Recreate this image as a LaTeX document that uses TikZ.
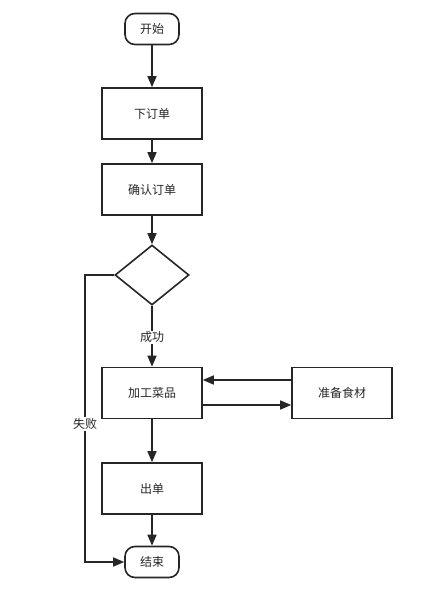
\documentclass[tikz,border=0pt]{standalone}
\usepackage{fontspec}
\newfontfamily\cjk{Noto Sans CJK SC}
\usetikzlibrary{shapes.geometric,arrows.meta}
\begin{document}
\begin{tikzpicture}[x=1pt,y=-1pt,
  every node/.style={font=\cjk\fontsize{12}{14}\selectfont, text=black!85},
  box/.style={draw=black!85, line width=1.6pt, minimum width=100pt, minimum height=51pt, inner sep=0pt},
  term/.style={draw=black!85, line width=1.6pt, rounded corners=10pt, minimum width=54pt, minimum height=31pt, inner sep=0pt},
  dec/.style={draw=black!85, line width=1.6pt, diamond, minimum width=74pt, minimum height=60pt, inner sep=0pt},
  conn/.style={draw=black!85, line width=1.6pt, -{Triangle[length=11pt,width=9pt]}},
  lbl/.style={fill=white, inner sep=1pt}
]
\useasboundingbox (0,0) rectangle (424,590);
\node[term] (start) at (152,29) {开始};
\node[box] (order) at (152,113.5) {下订单};
\node[box] (confirm) at (152,189.5) {确认订单};
\node[dec] (check) at (152,275) {};
\node[box] (cook) at (152,393) {加工菜品};
\node[box] (prep) at (342,393) {准备食材};
\node[box] (out) at (152,488.5) {出单};
\node[term] (end) at (152,562) {结束};
\coordinate (fa) at (85,275);
\coordinate (fb) at (85,562);

\draw[conn] (start) -- (order);
\draw[conn] (order) -- (confirm);
\draw[conn] (confirm) -- (check);
\draw[conn] (check) -- (cook) node[lbl, pos=0.52] {成功};
\draw[conn] (prep.west |- 0,380) -- (cook.east |- 0,380);
\draw[conn] (cook.east |- 0,405) -- (prep.west |- 0,405);
\draw[conn] (cook) -- (out);
\draw[conn] (out) -- (end);
\draw[conn] (check.west) -- (fa) -- (fb) -- (end.west);
\node[lbl] (fail) at (85,424) {失败};
\end{tikzpicture}
\end{document}
